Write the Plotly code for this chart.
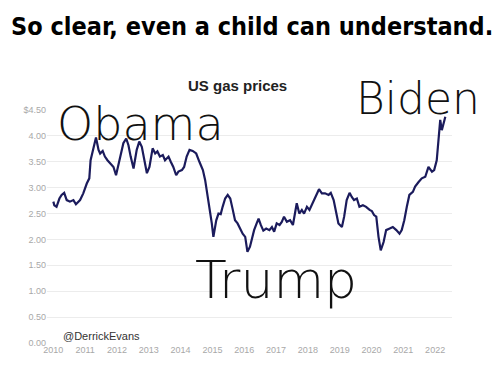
import plotly.graph_objects as go

# Data (decimal years, US$ per gallon)
years = [2010.00, 2010.03, 2010.10, 2010.19, 2010.26, 2010.34, 2010.42, 2010.52, 2010.63, 2010.71,
         2010.84, 2010.94, 2011.05, 2011.13, 2011.17, 2011.26, 2011.34, 2011.42, 2011.47, 2011.55,
         2011.62, 2011.70, 2011.78, 2011.89, 2011.97, 2012.08, 2012.20, 2012.29, 2012.36, 2012.43,
         2012.52, 2012.62, 2012.70, 2012.78, 2012.85, 2012.94, 2013.02, 2013.12, 2013.20, 2013.27,
         2013.35, 2013.44, 2013.51, 2013.62, 2013.69, 2013.77, 2013.86, 2013.93, 2014.04, 2014.11,
         2014.19, 2014.28, 2014.38, 2014.49, 2014.59, 2014.70, 2014.77, 2014.84, 2014.93, 2014.98,
         2015.03, 2015.12, 2015.19, 2015.26, 2015.32, 2015.40, 2015.48, 2015.56, 2015.63, 2015.71,
         2015.79, 2015.87, 2015.95, 2016.03, 2016.10, 2016.18, 2016.24, 2016.31, 2016.39, 2016.45,
         2016.52, 2016.60, 2016.69, 2016.79, 2016.87, 2016.94, 2017.02, 2017.11, 2017.18, 2017.25,
         2017.34, 2017.44, 2017.53, 2017.60, 2017.65, 2017.73, 2017.81, 2017.88, 2017.97, 2018.05,
         2018.12, 2018.20, 2018.28, 2018.35, 2018.44, 2018.54, 2018.65, 2018.72, 2018.81, 2018.89,
         2018.96, 2019.07, 2019.14, 2019.22, 2019.31, 2019.38, 2019.45, 2019.54, 2019.62, 2019.73,
         2019.83, 2019.94, 2020.01, 2020.08, 2020.15, 2020.22, 2020.29, 2020.38, 2020.46, 2020.57,
         2020.67, 2020.78, 2020.88, 2020.95, 2021.03, 2021.11, 2021.19, 2021.30, 2021.37, 2021.48,
         2021.58, 2021.69, 2021.79, 2021.90, 2021.97, 2022.05, 2022.11, 2022.16, 2022.21, 2022.26,
         2022.32]
prices = [2.73, 2.66, 2.63, 2.79, 2.86, 2.90, 2.76, 2.73, 2.76, 2.68,
          2.76, 2.89, 3.08, 3.18, 3.53, 3.79, 3.97, 3.73, 3.66, 3.71,
          3.60, 3.53, 3.47, 3.40, 3.24, 3.53, 3.86, 3.95, 3.82, 3.60,
          3.37, 3.73, 3.89, 3.79, 3.53, 3.28, 3.40, 3.76, 3.66, 3.70,
          3.60, 3.63, 3.53, 3.60, 3.50, 3.40, 3.24, 3.31, 3.34, 3.40,
          3.60, 3.73, 3.71, 3.66, 3.50, 3.34, 3.15, 2.89, 2.50, 2.31,
          2.05, 2.37, 2.50, 2.49, 2.63, 2.79, 2.86, 2.79, 2.60, 2.37,
          2.31, 2.21, 2.11, 2.05, 1.76, 1.86, 2.02, 2.18, 2.31, 2.40,
          2.28, 2.17, 2.21, 2.18, 2.24, 2.15, 2.31, 2.28, 2.34, 2.44,
          2.34, 2.37, 2.28, 2.50, 2.70, 2.50, 2.57, 2.50, 2.63, 2.57,
          2.66, 2.76, 2.86, 2.97, 2.89, 2.89, 2.86, 2.90, 2.76, 2.53,
          2.31, 2.24, 2.44, 2.76, 2.90, 2.82, 2.76, 2.79, 2.63, 2.66,
          2.63, 2.57, 2.55, 2.47, 2.44, 2.05, 1.79, 1.95, 2.18, 2.21,
          2.24, 2.18, 2.11, 2.18, 2.37, 2.63, 2.86, 2.92, 3.02, 3.11,
          3.18, 3.21, 3.40, 3.31, 3.34, 3.53, 3.89, 4.31, 4.11, 4.24,
          4.37]

y_tickvals = [0, 0.5, 1, 1.5, 2, 2.5, 3, 3.5, 4, 4.5]
y_ticktext = ["0.00", "0.50", "1.00", "1.50", "2.00", "2.50", "3.00", "3.50", "4.00", "$4.50"]
x_tickvals = list(range(2010, 2023))
x_ticktext = [str(y) for y in x_tickvals]

W, H = 500, 367
L, R, T, B = 47, 48, 110, 24
PH = H - T - B
PW = W - L - R


def px_x(px):
    return (px - L) / PW


def px_y(py):
    return (H - B - py) / PH


fig = go.Figure()
fig.add_trace(go.Scatter(x=years, y=prices, mode="lines",
                         line=dict(color="#1b1b5c", width=2.2), cliponaxis=False,
                         hoverinfo="skip"))

hand = dict(family="DejaVu Sans", color="#111111", weight=200)

fig.update_layout(
    width=W, height=H,
    margin=dict(l=L, r=R, t=T, b=B),
    paper_bgcolor="white", plot_bgcolor="white",
    showlegend=False,
    xaxis=dict(range=[2009.8, 2022.53], tickvals=x_tickvals, ticktext=x_ticktext,
               showgrid=False, zeroline=False, showline=False, ticks="",
               tickfont=dict(family="Liberation Sans", size=9, color="#a8a8a8")),
    yaxis=dict(range=[0, 4.5], tickvals=y_tickvals, ticktext=y_ticktext,
               showgrid=True, gridcolor="#ececec", gridwidth=1, zeroline=False,
               showline=False, ticks="",
               tickfont=dict(family="Liberation Sans", size=9, color="#a8a8a8")),
    annotations=[
        dict(text="<b>So clear, even a child can understand.</b>", x=px_x(252), y=px_y(26),
             xref="paper", yref="paper", showarrow=False, yanchor="middle",
             font=dict(family="DejaVu Sans Condensed", size=25, color="black")),
        dict(text="<b>US gas prices</b>", x=px_x(237), y=px_y(85), xref="paper", yref="paper",
             showarrow=False, yanchor="middle",
             font=dict(family="Liberation Sans", size=15, color="#222222")),
        dict(text="@DerrickEvans", x=px_x(61), y=px_y(336), xref="paper", yref="paper",
             xanchor="left", yanchor="middle", showarrow=False,
             font=dict(family="Liberation Sans", size=11, color="#333333")),
        dict(text="Obama", x=px_x(55), y=px_y(124), xref="paper", yref="paper", xanchor="left",
             yanchor="middle", showarrow=False, font=dict(size=46, **hand)),
        dict(text="Trump", x=px_x(193), y=px_y(280), xref="paper", yref="paper", xanchor="left",
             yanchor="middle", showarrow=False, font=dict(size=52, **hand)),
        dict(text="Biden", x=px_x(354), y=px_y(98), xref="paper", yref="paper", xanchor="left",
             yanchor="middle", showarrow=False, font=dict(size=44, **hand)),
    ],
)

fig.write_html("out.html", config={"displayModeBar": False},
               post_script="document.body.style.margin='0';")
